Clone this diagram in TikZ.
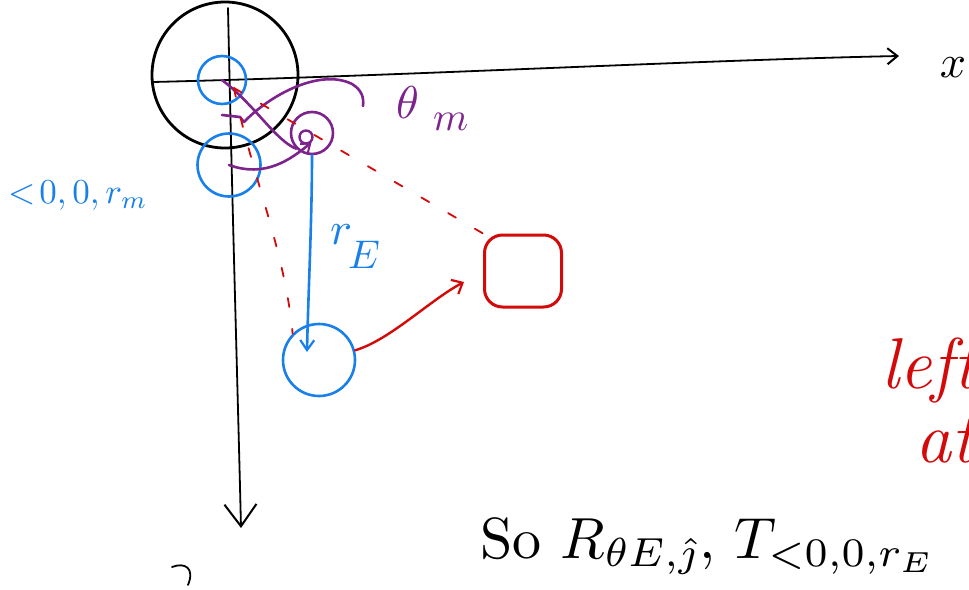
\documentclass[tikz,border=0pt]{standalone}
\usetikzlibrary{arrows.meta}
\definecolor{penblue}{RGB}{25,128,235}
\definecolor{penpurple}{RGB}{125,35,140}
\definecolor{penred}{RGB}{210,10,10}
\begin{document}
\begin{tikzpicture}[x=1pt,y=-1pt,line cap=round,line join=round,
  blk/.style={draw=black,line width=1.8pt},
  bl/.style={draw=penblue,line width=2.6pt},
  pur/.style={draw=penpurple,line width=2.6pt},
  rd/.style={draw=penred,line width=2.4pt},
  rdash/.style={draw=penred,line width=1.8pt,dash pattern=on 9pt off 22pt},
  ring/.style={circle,inner sep=0pt},
  barb/.style={-{Straight Barb[length=10pt,width=16pt,line width=2pt]}}]
\clip (0,0) rectangle (969,589);
\fill[white] (0,0) rectangle (969,589);
% big circle
\node[ring,draw=black,line width=2.8pt,minimum size=146pt] (earth) at (225,75) {};
% axes
\coordinate (xs) at (153,82);
\coordinate (xe) at (899,56);
\draw[blk,barb] (xs) .. controls (400,76) and (700,60) .. (xe);
\coordinate (ys) at (228,8);
\coordinate (ye) at (241,528);
\draw[blk,-{Straight Barb[length=22pt,width=32pt,line width=2pt]}] (ys) .. controls (232,200) and (238,400) .. (ye);
\node (xl) at (953,68) {\scalebox{4.6}{$x$}};
\draw[blk] (172,567) .. controls (185,562) and (195,568) .. (188,585);
% blue circles
\node[ring,draw=penblue,line width=2.6pt,minimum size=48pt] (b1) at (222,80) {};
\node[ring,draw=penblue,line width=2.6pt,minimum size=63pt] (b2) at (229,165) {};
\node[ring,draw=penblue,line width=2.6pt,minimum size=72pt] (b3) at (319,360) {};
\node[text=penblue,anchor=base west,inner sep=0pt] (lab) at (8,203) {\scalebox{3.5}{$<\!0,0,r_m$}};
% purple
\node[ring,draw=penpurple,line width=2.6pt,minimum size=42pt] (mp) at (312,133) {};
\node[ring,draw=penpurple,line width=2.4pt,minimum size=13pt] (mpin) at (306,137) {};
\draw[pur] (b1.center) .. controls (255,105) and (275,140) .. (mp.south west);
\draw[pur,-{Straight Barb[length=8pt,width=12pt,line width=2pt]}] (b2.center) .. controls (265,178) and (290,160) .. (mpin.south east);
\coordinate (ths) at (222,115);
\coordinate (the) at (363,106);
\draw[pur] (ths) -- (240,117) -- (244,122) .. controls (270,95) and (320,68) .. (352,84) .. controls (362,90) and (364,98) .. (the);
\node[text=penpurple,anchor=base west,inner sep=0pt] (thm) at (396,118) {\scalebox{4.6}{$\theta$}\hspace{14pt}\raisebox{-12pt}{\scalebox{4}{$m$}}};
% red dashed
\coordinate (o) at (234,88);
\draw[rdash] (o) .. controls (250,170) and (285,250) .. (b3.north west);
% red box and arrow
\node[draw=penred,line width=3pt,rounded corners=18pt,minimum width=77pt,minimum height=72pt] (box) at (523,271) {};
\draw[rdash] (o) -- (box.north west);
\coordinate (rae) at (464,282);
\draw[rd,-{Straight Barb[length=9pt,width=16pt,line width=2.2pt]}] (b3.15) .. controls (390,340) and (430,300) .. (rae);
% blue r_E
\coordinate (rEend) at (307,352);
\draw[bl,-{Straight Barb[length=10pt,width=14pt,line width=2.2pt]}] (mp.south) .. controls (312,220) and (308,300) .. (rEend);
\node[text=penblue,anchor=base west,inner sep=0pt] (rE) at (330,244) {\scalebox{4.6}{$r$}\hspace{-4pt}\raisebox{-24pt}{\scalebox{4}{$E$}}};
% red text
\node[text=penred,font=\fontsize{72}{76}\selectfont\itshape,anchor=base west] (left) at (878,388) {left};
\node[text=penred,font=\fontsize{72}{76}\selectfont\itshape,anchor=base west] (at) at (912,462) {at};
% bottom text
\node[anchor=base west,inner sep=0pt] (so) at (480,558) {\scalebox{5.8}{So $R_{\theta E,\hat{\jmath}}$, $T_{<0,0,r_E}$}};
\end{tikzpicture}
\end{document}
